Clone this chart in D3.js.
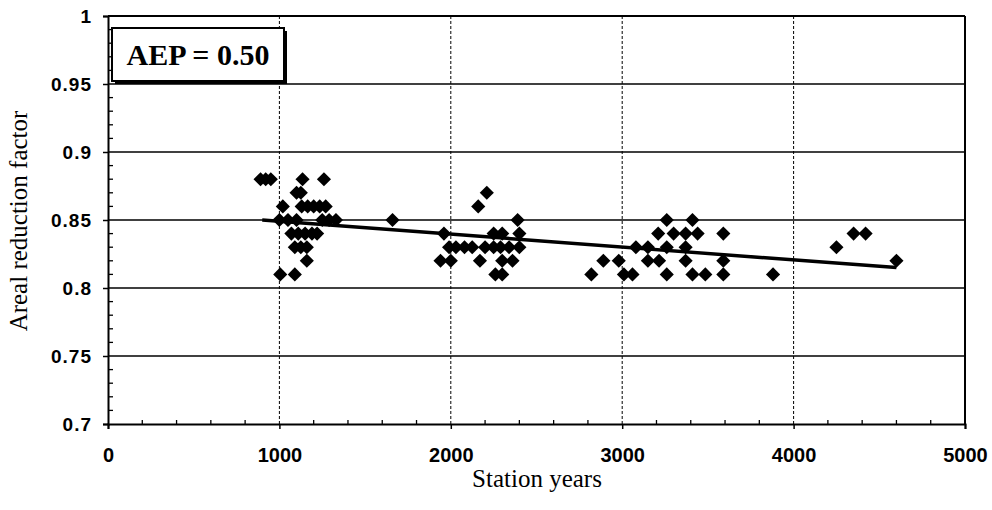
<!DOCTYPE html>
<html>
<head>
<meta charset="utf-8">
<script src="https://cdn.jsdelivr.net/npm/d3@7"></script>
<style>
  body { margin: 0; background: #fff; }
  svg { display: block; }
</style>
</head>
<body>
<div id="vis"></div>
<script>
// station years / areal reduction factor
const stationYears = [
  890, 920, 950, 1135, 1260,
  1100, 1125,
  1020, 1130, 1165, 1200, 1235, 1270,
  1000, 1050, 1100, 1250, 1290, 1330,
  1070, 1110, 1150, 1190, 1220,
  1090, 1125, 1160,
  1160,
  1005, 1090,
  1660,
  1960, 2250, 2300, 2400,
  1990, 2030, 2080, 2125, 2200, 2250, 2290, 2340, 2400,
  1940, 2000, 2170, 2300, 2360,
  2260, 2300,
  2160, 2210, 2390,
  3260, 3410,
  3210, 3300, 3370, 3440, 3590,
  3080, 3150, 3260, 3370,
  2890, 2980, 3150, 3215, 3370, 3590,
  2820, 3010, 3060, 3260, 3410, 3485, 3590,
  3880,
  4250, 4350, 4420, 4600
];
const arf = [
  0.88, 0.88, 0.88, 0.88, 0.88,
  0.87, 0.87,
  0.86, 0.86, 0.86, 0.86, 0.86, 0.86,
  0.85, 0.85, 0.85, 0.85, 0.85, 0.85,
  0.84, 0.84, 0.84, 0.84, 0.84,
  0.83, 0.83, 0.83,
  0.82,
  0.81, 0.81,
  0.85,
  0.84, 0.84, 0.84, 0.84,
  0.83, 0.83, 0.83, 0.83, 0.83, 0.83, 0.83, 0.83, 0.83,
  0.82, 0.82, 0.82, 0.82, 0.82,
  0.81, 0.81,
  0.86, 0.87, 0.85,
  0.85, 0.85,
  0.84, 0.84, 0.84, 0.84, 0.84,
  0.83, 0.83, 0.83, 0.83,
  0.82, 0.82, 0.82, 0.82, 0.82, 0.82,
  0.81, 0.81, 0.81, 0.81, 0.81, 0.81, 0.81,
  0.81,
  0.83, 0.84, 0.84, 0.82
];
// fitted trend line end points
const trendX = [900, 4600];
const trendY = [0.850, 0.815];

const xTicks = [0, 1000, 2000, 3000, 4000, 5000];
const yTicks = [0.7, 0.75, 0.8, 0.85, 0.9, 0.95, 1];
const label = "AEP = 0.50";

const W = 992, H = 510;
const pLeft = 108, pRight = 965, pTop = 16, pBottom = 424;
const serif = "'Liberation Serif', 'Times New Roman', serif";
const sans = "'Liberation Sans', Arial, sans-serif";

const svg = d3.select("#vis").append("svg")
    .attr("width", W)
    .attr("height", H);

const x = d3.scaleLinear().domain([0, 5000]).range([pLeft, pRight]);
const y = d3.scaleLinear().domain([0.7, 1]).range([pBottom, pTop]);

// vertical grid (dotted)
svg.append("g")
  .selectAll("line")
  .data(xTicks.slice(1, -1))
  .enter().append("line")
    .attr("x1", d => x(d)).attr("x2", d => x(d))
    .attr("y1", pTop).attr("y2", pBottom)
    .attr("stroke", "#000")
    .attr("stroke-width", 1)
    .attr("stroke-dasharray", "3,2");

// horizontal grid (solid)
svg.append("g")
  .selectAll("line")
  .data(yTicks.slice(1, -1))
  .enter().append("line")
    .attr("x1", pLeft).attr("x2", pRight)
    .attr("y1", d => y(d)).attr("y2", d => y(d))
    .attr("stroke", "#000")
    .attr("stroke-width", 1.6);

// minor ticks
svg.append("g")
  .selectAll("line")
  .data(d3.range(0.71, 1, 0.01).filter(v => Math.abs(v * 20 - Math.round(v * 20)) > 0.01))
  .enter().append("line")
    .attr("x1", pLeft).attr("x2", pLeft + 5)
    .attr("y1", d => y(d)).attr("y2", d => y(d))
    .attr("stroke", "#000").attr("stroke-width", 1.3);

svg.append("g")
  .selectAll("line")
  .data(d3.range(200, 5000, 200).filter(v => v % 1000 != 0))
  .enter().append("line")
    .attr("x1", d => x(d)).attr("x2", d => x(d))
    .attr("y1", pBottom).attr("y2", pBottom - 4)
    .attr("stroke", "#000").attr("stroke-width", 1.3);

// axes
const xAxis = svg.append("g")
    .attr("transform", "translate(0," + pBottom + ")")
    .call(d3.axisBottom(x).tickValues(xTicks).tickFormat(d3.format("d")).tickSize(5).tickPadding(19));
const yAxis = svg.append("g")
    .attr("transform", "translate(" + pLeft + ",0)")
    .call(d3.axisLeft(y).tickValues(yTicks).tickFormat(d => d).tickSize(5).tickPadding(11));

[xAxis, yAxis].forEach(g => {
  g.select(".domain").attr("stroke", "#000").attr("stroke-width", 2);
  g.selectAll(".tick line").attr("stroke", "#000").attr("stroke-width", 1.5);
  g.selectAll(".tick text")
    .attr("fill", "#000")
    .style("font-family", sans)
    .style("font-weight", "bold");
});
xAxis.selectAll(".tick text").style("font-size", "20px");
yAxis.selectAll(".tick text").style("font-size", "19px").style("letter-spacing", "1px");

// frame top + right
svg.append("line").attr("x1", pLeft).attr("x2", pRight).attr("y1", pTop).attr("y2", pTop)
  .attr("stroke", "#000").attr("stroke-width", 2);
svg.append("line").attr("x1", pRight).attr("x2", pRight).attr("y1", pTop).attr("y2", pBottom)
  .attr("stroke", "#000").attr("stroke-width", 2);

// trend line
svg.append("path")
  .datum(d3.zip(trendX, trendY))
  .attr("d", d3.line().x(d => x(d[0])).y(d => y(d[1])))
  .attr("fill", "none")
  .attr("stroke", "#000")
  .attr("stroke-width", 3.5);

// points
const diamond = d3.symbol().type(d3.symbolSquare).size(100);
svg.append("g")
  .selectAll("path")
  .data(d3.zip(stationYears, arf))
  .enter().append("path")
    .attr("d", diamond)
    .attr("transform", d => "translate(" + x(d[0]) + "," + y(d[1]) + ")rotate(45)")
    .attr("fill", "#000");

// label box with shadow
svg.append("rect")
  .attr("x", 115).attr("y", 31).attr("width", 172).attr("height", 53)
  .attr("fill", "#000");
svg.append("rect")
  .attr("x", 112).attr("y", 28).attr("width", 172).attr("height", 53)
  .attr("fill", "#fff")
  .attr("stroke", "#000")
  .attr("stroke-width", 2);
svg.append("text")
  .attr("x", 198).attr("y", 65)
  .attr("text-anchor", "middle")
  .style("font-family", serif)
  .style("font-weight", "bold")
  .style("font-size", "30px")
  .text(label);

// axis titles
svg.append("text")
  .attr("x", 537).attr("y", 487)
  .attr("text-anchor", "middle")
  .style("font-family", serif)
  .style("font-size", "25px")
  .text("Station years");
svg.append("text")
  .attr("transform", "translate(27,221)rotate(-90)")
  .attr("text-anchor", "middle")
  .style("font-family", serif)
  .style("font-size", "25px")
  .text("Areal reduction factor");
</script>
</body>
</html>
